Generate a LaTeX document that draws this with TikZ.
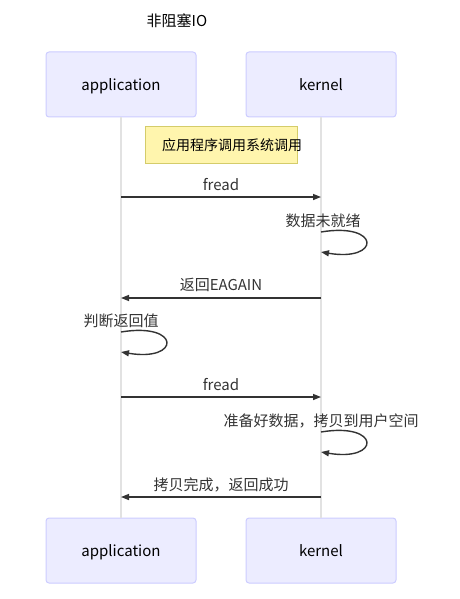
\documentclass[tikz,border=0pt]{standalone}
\usepackage{fontspec}
\setmainfont{Noto Sans CJK SC}
\usetikzlibrary{arrows.meta}
\definecolor{actorfill}{HTML}{ECECFF}
\definecolor{actorline}{HTML}{CCCCFF}
\definecolor{notefill}{HTML}{FFF5AD}
\definecolor{noteline}{HTML}{D4CC6A}
\definecolor{lifeline}{HTML}{E2E2E2}
\definecolor{msgline}{HTML}{333333}
\tikzset{
  actor/.style={draw=actorline, fill=actorfill, line width=1pt, rounded corners=3pt,
    minimum width=150pt, minimum height=65pt, inner sep=0pt, text height=13pt, text depth=1pt,
    font=\fontsize{15}{17}\selectfont},
  notebox/.style={draw=noteline, fill=notefill, line width=1pt,
    minimum width=152pt, minimum height=37pt, inner sep=0pt},
  lbl/.style={font=\fontsize{15}{17}\selectfont, text=msgline, inner sep=0pt},
  life/.style={draw=lifeline, line width=1.5pt},
  msg/.style={draw=msgline, line width=1.4pt, -{Triangle[length=8pt,width=6pt]}},
}
\begin{document}
\begin{tikzpicture}[x=1pt,y=-1pt]
\useasboundingbox (0,0) rectangle (459,599);
\node[lbl, text=black] (title) at (177,21) {非阻塞IO};
\node[actor] (appT) at (121,84.5) {application};
\node[actor] (kerT) at (321,84.5) {kernel};
\node[actor] (appB) at (121,550.5) {application};
\node[actor] (kerB) at (321,550.5) {kernel};
\draw[life] (appT.south) -- (appB.north);
\draw[life] (kerT.south) -- (kerB.north);
\node[notebox] (note) at (221,144.5) {};
\node[lbl, text=black, font=\fontsize{14}{16}\selectfont] (notetext) at (232,145) {应用程序调用系统调用};
% message 1
\coordinate (m1a) at (121,197); \coordinate (m1k) at (321,197);
\draw[msg] (m1a) -- (m1k);
\node[lbl] (l1) at (221,185) {fread};
% self loop kernel
\node[lbl] (l2) at (323,221) {数据未就绪};
\coordinate (s1a) at (321,232); \coordinate (s1b) at (321,252);
\draw[msg] (s1a) .. controls (381,222) and (381,262) .. (s1b);
% message 3
\coordinate (m3k) at (321,298); \coordinate (m3a) at (121,298);
\draw[msg] (m3k) -- (m3a);
\node[lbl] (l3) at (221,285) {返回EAGAIN};
% self loop app
\node[lbl] (l4) at (121,321) {判断返回值};
\coordinate (s2a) at (121,332); \coordinate (s2b) at (121,352);
\draw[msg] (s2a) .. controls (181,322) and (181,362) .. (s2b);
% message 5
\coordinate (m5a) at (121,397); \coordinate (m5k) at (321,397);
\draw[msg] (m5a) -- (m5k);
\node[lbl] (l5) at (221,385) {fread};
% self loop kernel 2
\node[lbl] (l6) at (321,421) {准备好数据，拷贝到用户空间};
\coordinate (s3a) at (321,432); \coordinate (s3b) at (321,452);
\draw[msg] (s3a) .. controls (381,422) and (381,462) .. (s3b);
% message 7
\coordinate (m7k) at (321,497); \coordinate (m7a) at (121,497);
\draw[msg] (m7k) -- (m7a);
\node[lbl] (l7) at (221,485) {拷贝完成，返回成功};
\end{tikzpicture}
\end{document}
